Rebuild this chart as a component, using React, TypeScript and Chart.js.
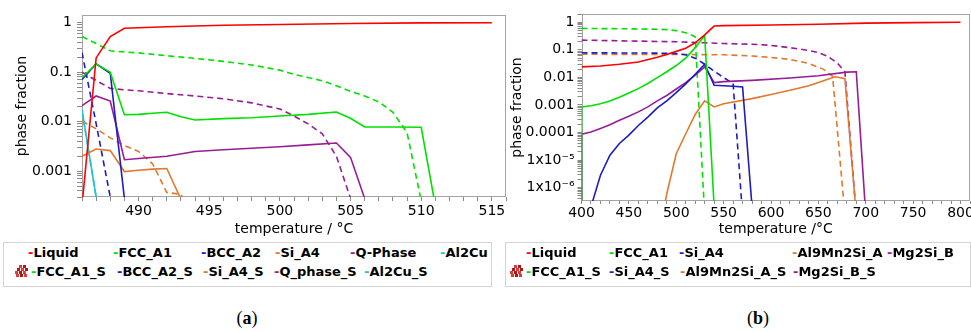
import React, { useEffect, useRef } from 'react';
import { Chart, registerables } from 'chart.js';

Chart.register(...registerables);

type Pt = [number, number];

// ---------------- (a) series : [temperature °C, phase fraction] ----------------
const aLiquid: Pt[] = [[486, 2e-4], [487, 0.194], [488, 0.525], [489, 0.77], [492, 0.83], [496, 0.89], [500, 0.92], [505, 0.96], [510, 0.99], [515, 1.0]];
const aFCC: Pt[] = [[486, 0.077], [487, 0.147], [488, 0.1], [489, 0.0138], [490, 0.014], [491, 0.0148], [492, 0.0155], [493, 0.0125], [494, 0.0108], [496, 0.0115], [498, 0.012], [500, 0.013], [502, 0.014], [504, 0.0157], [505, 0.0117], [506, 0.0078], [508, 0.0078], [510, 0.0077], [511, 2e-4]];
const aBCC: Pt[] = [[486, 0.071], [487, 0.147], [488, 0.095], [489, 2.8e-4]];
const aSi: Pt[] = [[486, 0.002], [487, 0.0028], [488, 0.0026], [489, 0.00098], [490, 0.00104], [491, 0.0011], [492, 0.00113], [493, 2.7e-4]];
const aQ: Pt[] = [[486, 0.021], [487, 0.033], [488, 0.026], [489, 0.0017], [490, 0.0018], [492, 0.002], [494, 0.0025], [496, 0.0027], [500, 0.0031], [502, 0.0034], [504, 0.0037], [505, 0.0019], [506, 2.8e-4]];
const aAl2Cu: Pt[] = [[486, 0.017], [487, 3e-4]];
const aFCC_S: Pt[] = [[486, 0.525], [487, 0.38], [488, 0.27], [489, 0.255], [490, 0.245], [492, 0.215], [494, 0.19], [496, 0.165], [498, 0.14], [500, 0.11], [501, 0.09], [502, 0.078], [503, 0.067], [504, 0.053], [505, 0.041], [506, 0.033], [507, 0.025], [508, 0.0155], [509, 0.006], [510, 2.5e-4]];
const aBCC_S: Pt[] = [[486, 0.25], [487, 0.0091], [488, 3e-4]];
const aSi_S: Pt[] = [[486, 0.0102], [487, 0.0072], [488, 0.0047], [489, 0.0033], [490, 0.0025], [491, 0.0014], [492, 3.7e-4], [493, 3.4e-4], [494, 1e-4]];
const aQ_S: Pt[] = [[486, 0.1], [487, 0.068], [488, 0.047], [489, 0.044], [490, 0.042], [492, 0.037], [494, 0.033], [496, 0.029], [498, 0.024], [500, 0.018], [501, 0.013], [502, 0.009], [503, 0.0057], [504, 0.002], [505, 2.8e-4]];
const aAl2Cu_S: Pt[] = [[486, 0.0168], [487, 3e-4]];

// ---------------- (b) series ----------------
const bLiquid: Pt[] = [[400, 0.024], [420, 0.026], [440, 0.03], [460, 0.036], [480, 0.054], [490, 0.068], [500, 0.088], [510, 0.115], [520, 0.18], [530, 0.35], [540, 0.73], [550, 0.76], [600, 0.8], [650, 0.85], [700, 0.93], [750, 0.97], [800, 1.0]];
const bFCC: Pt[] = [[400, 1e-9], [400, 0.00085], [410, 0.00093], [420, 0.0011], [430, 0.0014], [440, 0.0019], [450, 0.0027], [460, 0.0039], [470, 0.006], [480, 0.0098], [490, 0.016], [500, 0.027], [510, 0.05], [520, 0.12], [530, 0.33], [540, 2e-7]];
const bSi: Pt[] = [[410, 2e-7], [420, 2.8e-6], [430, 1.5e-5], [440, 4e-5], [450, 8e-5], [460, 1.8e-4], [470, 3.6e-4], [480, 7.8e-4], [490, 0.0014], [500, 0.0028], [510, 0.0058], [520, 0.013], [530, 0.03], [540, 0.0052], [550, 0.005], [560, 0.0048], [570, 0.0045], [580, 2e-7]];
const bAl: Pt[] = [[480, 1e-8], [490, 6e-7], [500, 1.7e-5], [510, 9e-5], [520, 4.5e-4], [530, 0.0014], [540, 8.5e-4], [550, 0.0011], [580, 0.0017], [600, 0.0024], [620, 0.0034], [640, 0.005], [660, 0.0085], [668, 0.0105], [678, 0.009], [690, 1e-7]];
const bMg: Pt[] = [[400, 1e-9], [400, 8.7e-5], [410, 1.05e-4], [420, 1.4e-4], [430, 1.9e-4], [440, 2.8e-4], [450, 3.9e-4], [460, 5.6e-4], [470, 8.5e-4], [480, 0.0014], [490, 0.0022], [500, 0.0038], [510, 0.0065], [520, 0.012], [530, 0.024], [540, 0.0065], [550, 0.007], [580, 0.0078], [620, 0.0095], [650, 0.0115], [680, 0.0155], [690, 0.016], [700, 1e-7]];
const bFCC_S: Pt[] = [[400, 0.6], [450, 0.58], [480, 0.56], [490, 0.54], [500, 0.5], [510, 0.42], [520, 0.3], [530, 1e-7]];
const bSi_S: Pt[] = [[400, 0.078], [450, 0.077], [480, 0.076], [500, 0.073], [510, 0.066], [520, 0.05], [530, 0.03], [540, 0.017], [550, 0.0098], [560, 0.006], [570, 1e-7]];
const bAl_S: Pt[] = [[400, 0.069], [500, 0.068], [550, 0.066], [580, 0.06], [600, 0.053], [620, 0.045], [640, 0.032], [655, 0.02], [665, 0.011], [678, 1e-7]];
const bMg_S: Pt[] = [[400, 0.225], [450, 0.21], [500, 0.197], [530, 0.18], [550, 0.17], [580, 0.16], [600, 0.145], [620, 0.12], [640, 0.095], [650, 0.08], [660, 0.058], [670, 0.033], [678, 0.016], [690, 1e-7]];

// ---------------- ticks ----------------
const aXTicks = [490, 495, 500, 505, 510, 515];
const aYTicks = [1, 0.1, 0.01, 0.001];
const aYTickLabels = ['1', '0.1', '0.01', '0.001'];
const bXTicks = [400, 450, 500, 550, 600, 650, 700, 750, 800];
const bYTicks = [1, 0.1, 0.01, 0.001, 0.0001, 1e-5, 1e-6];
const bYTickLabels = ['1', '0.1', '0.01', '0.001', '0.0001', '1x10⁻⁵', '1x10⁻⁶'];

// ---------------- legend rows (names) ----------------
const aLegendRow1 = ['Liquid', 'FCC_A1', 'BCC_A2', 'Si_A4', 'Q-Phase', 'Al2Cu'];
const aLegendRow2 = ['FCC_A1_S', 'BCC_A2_S', 'Si_A4_S', 'Q_phase_S', 'Al2Cu_S'];
const bLegendRow1 = ['Liquid', 'FCC_A1', 'Si_A4', 'Al9Mn2Si_A', 'Mg2Si_B'];
const bLegendRow2 = ['FCC_A1_S', 'Si_A4_S', 'Al9Mn2Si_A_S', 'Mg2Si_B_S'];

// ---------------- styles ----------------
const RED = '#ff0000';
const GREEN = '#00e100';
const BLUE = '#1c1cc4';
const ORANGE = '#e2782e';
const PURPLE = '#981c98';
const CYAN = '#1cc6d0';
const FONT = '"DejaVu Sans", Verdana, sans-serif';

type Series = { name: string; pts: Pt[]; color: string; dashed: boolean };

const aSeries: Series[] = [
  { name: 'Liquid', pts: aLiquid, color: RED, dashed: false },
  { name: 'FCC_A1', pts: aFCC, color: GREEN, dashed: false },
  { name: 'BCC_A2', pts: aBCC, color: BLUE, dashed: false },
  { name: 'Si_A4', pts: aSi, color: ORANGE, dashed: false },
  { name: 'Q-Phase', pts: aQ, color: PURPLE, dashed: false },
  { name: 'Al2Cu', pts: aAl2Cu, color: CYAN, dashed: false },
  { name: 'FCC_A1_S', pts: aFCC_S, color: GREEN, dashed: true },
  { name: 'BCC_A2_S', pts: aBCC_S, color: BLUE, dashed: true },
  { name: 'Si_A4_S', pts: aSi_S, color: ORANGE, dashed: true },
  { name: 'Q_phase_S', pts: aQ_S, color: PURPLE, dashed: true },
  { name: 'Al2Cu_S', pts: aAl2Cu_S, color: CYAN, dashed: true },
];

const bSeries: Series[] = [
  { name: 'Liquid', pts: bLiquid, color: RED, dashed: false },
  { name: 'FCC_A1', pts: bFCC, color: GREEN, dashed: false },
  { name: 'Si_A4', pts: bSi, color: BLUE, dashed: false },
  { name: 'Al9Mn2Si_A', pts: bAl, color: ORANGE, dashed: false },
  { name: 'Mg2Si_B', pts: bMg, color: PURPLE, dashed: false },
  { name: 'FCC_A1_S', pts: bFCC_S, color: GREEN, dashed: true },
  { name: 'Si_A4_S', pts: bSi_S, color: BLUE, dashed: true },
  { name: 'Al9Mn2Si_A_S', pts: bAl_S, color: ORANGE, dashed: true },
  { name: 'Mg2Si_B_S', pts: bMg_S, color: PURPLE, dashed: true },
];

const framePlugin = {
  id: 'frame',
  beforeDatasetsDraw(chart: any) {
    const { ctx, chartArea } = chart;
    const l = Math.round(chartArea.left) + 0.5;
    const t = Math.round(chartArea.top) + 0.5;
    const r = Math.round(chartArea.right) - 0.5;
    const b = Math.round(chartArea.bottom) - 0.5;
    ctx.save();
    ctx.strokeStyle = '#a4a4a4';
    ctx.lineWidth = 1;
    ctx.strokeRect(l, t, r - l, b - t);
    ctx.restore();
  },
};

type Cfg = {
  series: Series[];
  xMin: number; xMax: number; xStep: number; xTicks: number[];
  yMin: number; yMax: number; yTicks: number[]; yTickLabels: string[];
  xTitle: string;
  pad: { left: number; right: number; top: number; bottom: number };
  xHeight: number; yWidth: number;
  xTickLen: number; xTickPad: number; yTickLen: number; yTickPad: number;
};

function makeChart(canvas: HTMLCanvasElement, cfg: Cfg) {
  const yLabel = (v: number) => {
    for (let i = 0; i < cfg.yTicks.length; i++) {
      if (Math.abs(Math.log10(v) - Math.log10(cfg.yTicks[i])) < 1e-6) return cfg.yTickLabels[i];
    }
    return '';
  };
  return new Chart(canvas, {
    type: 'line',
    data: {
      datasets: cfg.series.map((s) => ({
        label: s.name,
        data: s.pts.map(([x, y]) => ({ x, y })),
        borderColor: s.color,
        backgroundColor: s.color,
        borderWidth: 1.6,
        borderDash: s.dashed ? [6, 4] : [],
        pointRadius: 0,
        tension: 0,
        fill: false,
      })),
    },
    options: {
      responsive: false,
      animation: false,
      devicePixelRatio: 1,
      events: [],
      layout: { padding: cfg.pad },
      plugins: { legend: { display: false }, tooltip: { enabled: false } },
      scales: {
        x: {
          type: 'linear',
          min: cfg.xMin,
          max: cfg.xMax,
          ticks: {
            stepSize: cfg.xStep,
            autoSkip: false,
            maxRotation: 0,
            minRotation: 0,
            padding: cfg.xTickPad,
            color: '#000',
            font: { family: FONT, size: 14 },
            callback: (v: any) => (cfg.xTicks.some((t) => Math.abs(t - v) < 1e-6) ? String(Math.round(v)) : ''),
          },
          grid: { drawOnChartArea: false, tickLength: cfg.xTickLen, color: '#8a8a8a' },
          border: { display: false },
          title: { display: true, text: cfg.xTitle, color: '#000', font: { family: FONT, size: 14 }, padding: { top: 0, bottom: 2 } },
          afterFit: (s: any) => { s.height = cfg.xHeight; s.paddingLeft = 0; s.paddingRight = 0; },
        },
        y: {
          type: 'logarithmic',
          min: cfg.yMin,
          max: cfg.yMax,
          afterBuildTicks: (s: any) => {
            s.ticks = s.ticks.filter((t: any) => {
              const m = t.value / Math.pow(10, Math.floor(Math.log10(t.value) + 1e-9));
              return Math.abs(m - Math.round(m)) < 1e-6;
            });
          },
          ticks: {
            autoSkip: false,
            padding: cfg.yTickPad,
            color: '#000',
            font: { family: FONT, size: 14 },
            callback: (v: any) => yLabel(Number(v)),
          },
          grid: { drawOnChartArea: false, tickLength: cfg.yTickLen, color: '#8a8a8a' },
          border: { display: false },
          title: { display: true, text: 'phase fraction', color: '#000', font: { family: FONT, size: 14 }, padding: { top: 0, bottom: 0 } },
          afterFit: (s: any) => { s.width = cfg.yWidth; s.paddingTop = 0; s.paddingBottom = 0; },
        },
      },
    } as any,
    plugins: [framePlugin],
  });
}

function ChartCanvas({ cfg, left, width }: { cfg: Cfg; left: number; width: number }) {
  const ref = useRef<HTMLCanvasElement | null>(null);
  useEffect(() => {
    if (!ref.current) return;
    const ch = makeChart(ref.current, cfg);
    return () => ch.destroy();
  }, []);
  return (
    <canvas ref={ref} width={width} height={240}
      style={{ position: 'absolute', left, top: 0, width, height: 240 }} />
  );
}

function CubeIcon({ left, top }: { left: number; top: number }) {
  const cubes = [[2, 6], [6, 6], [10, 6], [4, 3], [8, 3], [12, 3], [6, 0], [10, 0], [3, 9], [7, 9], [11, 9]];
  return (
    <svg width={16} height={13} style={{ position: 'absolute', left, top }}>
      {cubes.map(([x, y], i) => (
        <rect key={i} x={x} y={y} width={3} height={3} fill={i % 2 ? '#b01818' : '#e03a3a'} />
      ))}
    </svg>
  );
}

function LegendItem({ name, color, left, top }: { name: string; color: string; left: number; top: number }) {
  return (
    <div style={{ position: 'absolute', left, top, whiteSpace: 'nowrap', font: `bold 13px ${FONT}`, lineHeight: '16px', color: '#000' }}>
      <span style={{ color }}>-</span>{name}
    </div>
  );
}

function Legend({ series, row1, row2, row1X, row2X, iconX, boxLeft, boxWidth }:
  { series: Series[]; row1: string[]; row2: string[]; row1X: number[]; row2X: number[]; iconX: number; boxLeft: number; boxWidth: number }) {
  const colorOf = (n: string) => (series.find((s) => s.name === n) || { color: '#000' }).color;
  return (
    <>
      <div style={{ position: 'absolute', left: boxLeft, top: 242, width: boxWidth, height: 45, border: '1px solid #d4d4d4', boxSizing: 'border-box' }} />
      {row1.map((n, i) => <LegendItem key={'r1' + n} name={n} color={colorOf(n)} left={row1X[i]} top={245} />)}
      <CubeIcon left={iconX} top={265} />
      {row2.map((n, i) => <LegendItem key={'r2' + n} name={n} color={colorOf(n)} left={row2X[i]} top={264} />)}
    </>
  );
}

const cfgA: Cfg = {
  series: aSeries,
  xMin: 486, xMax: 516, xStep: 1, xTicks: aXTicks,
  yMin: 3.27e-4, yMax: 1.43, yTicks: aYTicks, yTickLabels: aYTickLabels,
  xTitle: 'temperature / °C',
  pad: { left: 14, right: 4, top: 15, bottom: 0 },
  xHeight: 43, yWidth: 68,
  xTickLen: 4, xTickPad: 2, yTickLen: 5, yTickPad: 5,
};

const cfgB: Cfg = {
  series: bSeries,
  xMin: 400, xMax: 810, xStep: 10, xTicks: bXTicks,
  yMin: 3.26e-7, yMax: 2.0, yTicks: bYTicks, yTickLabels: bYTickLabels,
  xTitle: 'temperature /°C',
  pad: { left: 29, right: 1, top: 14, bottom: 0 },
  xHeight: 39, yWidth: 72.5,
  xTickLen: 3, xTickPad: 1, yTickLen: 4, yTickPad: 3,
};

export default function App() {
  return (
    <div style={{ position: 'absolute', left: 0, top: 0, width: 971, height: 332, background: '#fff', overflow: 'hidden' }}>
      <ChartCanvas cfg={cfgA} left={0} width={510} />
      <ChartCanvas cfg={cfgB} left={480} width={491} />
      <Legend series={aSeries} row1={aLegendRow1} row2={aLegendRow2}
        row1X={[28, 113, 201, 275, 350, 440]} row2X={[31, 117, 203, 274, 364]} iconX={13}
        boxLeft={3} boxWidth={489} />
      <Legend series={bSeries} row1={bLegendRow1} row2={bLegendRow2}
        row1X={[526, 609, 679, 792, 887]} row2X={[526, 609, 680, 793]} iconX={508}
        boxLeft={505} boxWidth={466} />
      <div style={{ position: 'absolute', left: 207, top: 307, width: 80, textAlign: 'center', font: '18px "Liberation Serif", serif', lineHeight: '22px', color: '#000' }}>
        (<b>a</b>)
      </div>
      <div style={{ position: 'absolute', left: 718, top: 307, width: 80, textAlign: 'center', font: '18px "Liberation Serif", serif', lineHeight: '22px', color: '#000' }}>
        (<b>b</b>)
      </div>
    </div>
  );
}
